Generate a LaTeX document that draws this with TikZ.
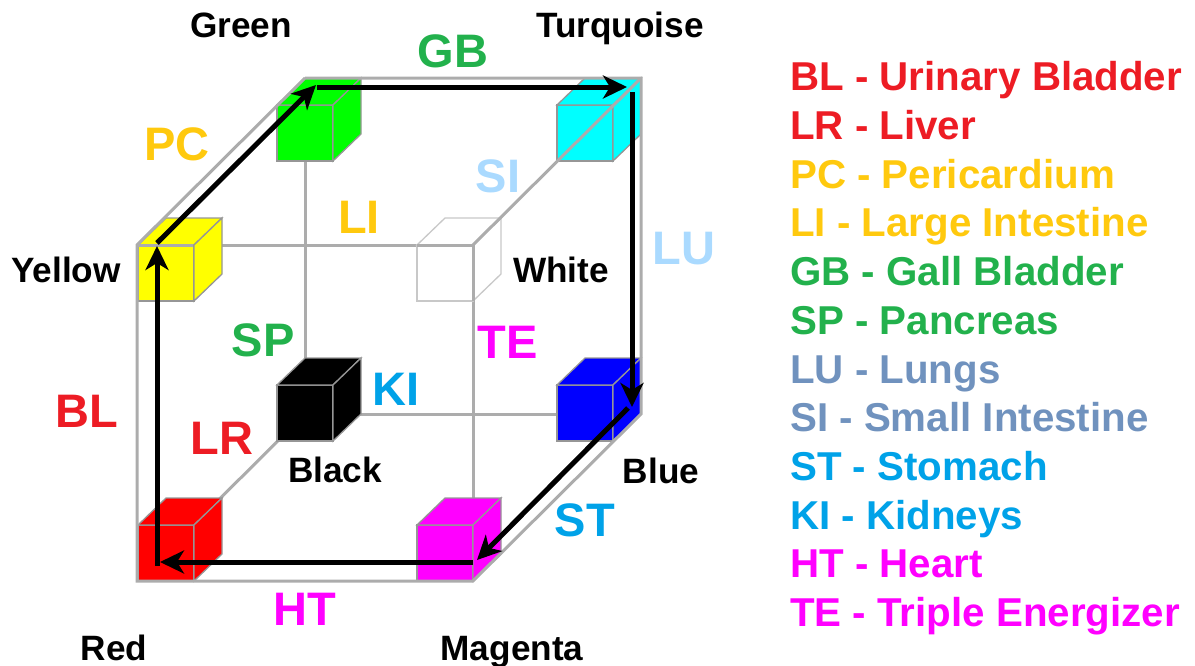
\documentclass[tikz,border=0pt]{standalone}
\usepackage{fontspec}
\setmainfont{Liberation Sans}
\usetikzlibrary{arrows.meta}
\definecolor{legred}{RGB}{237,28,36}
\definecolor{legorange}{RGB}{255,201,14}
\definecolor{leggreen}{RGB}{34,177,76}
\definecolor{leggrey}{RGB}{112,146,190}
\definecolor{legpale}{RGB}{170,218,255}
\definecolor{legblue}{RGB}{0,162,232}
\definecolor{legpink}{RGB}{255,0,255}
\definecolor{frameline}{RGB}{172,172,172}
\definecolor{cubeline}{RGB}{150,150,150}
\definecolor{whiteline}{RGB}{200,200,200}
\definecolor{cubered}{RGB}{255,0,0}
\definecolor{cubegreen}{RGB}{0,255,0}
\definecolor{cubeblue}{RGB}{0,0,255}
\definecolor{cubeyellow}{RGB}{255,255,0}
\definecolor{cubecyan}{RGB}{0,255,255}
\tikzset{
	frame/.style={draw=frameline,line width=3pt},
	route/.style={draw=black,line width=5pt,-{Stealth[length=24pt,width=23pt,inset=7pt]}},
	colname/.style={font=\bfseries\fontsize{35.2}{35.2}\selectfont,text=black,anchor=base,inner sep=0pt},
	merid/.style={font=\bfseries\fontsize{47}{47}\selectfont},
	legend/.style={font=\bfseries\fontsize{40.3}{40.3}\selectfont,anchor=base west,inner sep=0pt},
}
% small cube: #1 = edge colour, #2 = front lower left corner, #3 = fill
\newcommand{\smallcube}[3][cubeline]{
	\filldraw[draw=#1,line width=1.3pt,fill=#3] (#2) rectangle +(56,-56);
	\filldraw[draw=#1,line width=1.3pt,fill=#3] (#2)++(0,-56) -- +(28,-27) -- +(84,-27) -- +(56,0) -- cycle;
	\filldraw[draw=#1,line width=1.3pt,fill=#3] (#2)++(56,0) -- +(28,-27) -- +(28,-83) -- +(0,-56) -- cycle;
}
\begin{document}
\begin{tikzpicture}[x=1pt,y=-1pt]
	\useasboundingbox (0,0) rectangle (1195,665);
	\coordinate (FTL) at (137,245);
	\coordinate (FTR) at (473,245);
	\coordinate (FBL) at (137,581);
	\coordinate (FBR) at (473,581);
	\coordinate (BTL) at (305,78);
	\coordinate (BTR) at (641,78);
	\coordinate (BBL) at (305,414);
	\coordinate (BBR) at (641,414);
	% edges behind the cubes
	\draw[frame] (BTL) -- (BBL) -- (BBR);
	\draw[frame] (FBL) -- (BBL);
	\draw[frame] (FTL) -- (FTR) -- (FBR);
	% cubes
	\coordinate (red) at (138,581);
	\coordinate (yellow) at (138,301);
	\coordinate (magenta) at (417,581);
	\coordinate (white) at (417,301);
	\coordinate (black) at (277,441);
	\coordinate (blue) at (557,441);
	\coordinate (green) at (277,161);
	\coordinate (turquoise) at (557,161);
	\smallcube{black}{black}
	\smallcube{blue}{cubeblue}
	\smallcube{green}{cubegreen}
	\smallcube{turquoise}{cubecyan}
	\smallcube{red}{cubered}
	\smallcube{yellow}{cubeyellow}
	\smallcube{magenta}{legpink}
	\smallcube[whiteline]{white}{white}
	% edges over the cubes
	\draw[frame] (BTL) -- (BTR) -- (BBR) -- (FBR) -- (FBL) -- (FTL) -- (BTL);
	\draw[frame] (FTL) -- (193,245);
	\draw[frame] (FTR) -- (BTR);
	\draw[frame] (417,245) -- (FTR) -- (473,301);
	% route
	\coordinate (p1) at (157,566);
	\coordinate (p2) at (157,246);
	\coordinate (p3) at (157,243);
	\coordinate (p4) at (316,85);
	\coordinate (p5) at (317,87);
	\coordinate (p6) at (627,87);
	\coordinate (p7) at (632,92);
	\coordinate (p8) at (632,407);
	\coordinate (p9) at (628,408);
	\coordinate (p10) at (477,560);
	\coordinate (p11) at (473,562);
	\coordinate (p12) at (160,562);
	\draw[route] (p1) -- (p2);
	\draw[route] (p3) -- (p4);
	\draw[route] (p5) -- (p6);
	\draw[route] (p7) -- (p8);
	\draw[route] (p9) -- (p10);
	\draw[route] (p11) -- (p12);
	% colours
	\node[colname] (nGreen) at (241,37) {Green};
	\node[colname] (nTurq) at (620,37) {Turquoise};
	\node[colname] (nYellow) at (66,282) {Yellow};
	\node[colname] (nWhite) at (561,282) {White};
	\node[colname] (nBlack) at (335,482) {Black};
	\node[colname] (nBlue) at (661,483) {Blue};
	\node[colname] (nRed) at (114,660) {Red};
	\node[colname] (nMagenta) at (512,660) {Magenta};
	% meridians
	\node[merid,text=leggreen] (mGB) at (453,51) {GB};
	\node[merid,text=legorange] (mPC) at (177,144) {PC};
	\node[merid,text=legpale] (mSI) at (498,176) {SI};
	\node[merid,text=legorange] (mLI) at (359,217) {LI};
	\node[merid,text=legpale] (mLU) at (684,249) {LU};
	\node[merid,text=leggreen] (mSP) at (263,340) {SP};
	\node[merid,text=legpink] (mTE) at (508,342) {TE};
	\node[merid,text=legblue] (mKI) at (396,389) {KI};
	\node[merid,text=legred] (mBL) at (87,411) {BL};
	\node[merid,text=legred] (mLR) at (222,438) {LR};
	\node[merid,text=legblue] (mST) at (585,520) {ST};
	\node[merid,text=legpink] (mHT) at (305,609) {HT};
	% legend
	\node[legend,text=legred] (l1) at (790,90) {BL - Urinary Bladder};
	\node[legend,text=legred] (l2) at (790,139) {LR - Liver};
	\node[legend,text=legorange] (l3) at (790,188) {PC - Pericardium};
	\node[legend,text=legorange] (l4) at (790,236) {LI - Large Intestine};
	\node[legend,text=leggreen] (l5) at (790,285) {GB - Gall Bladder};
	\node[legend,text=leggreen] (l6) at (790,334) {SP - Pancreas};
	\node[legend,text=leggrey] (l7) at (790,383) {LU - Lungs};
	\node[legend,text=leggrey] (l8) at (790,431) {SI - Small Intestine};
	\node[legend,text=legblue] (l9) at (790,480) {ST - Stomach};
	\node[legend,text=legblue] (l10) at (790,529) {KI - Kidneys};
	\node[legend,text=legpink] (l11) at (790,577) {HT - Heart};
	\node[legend,text=legpink] (l12) at (790,626) {TE - Triple Energizer};
\end{tikzpicture}
\end{document}
